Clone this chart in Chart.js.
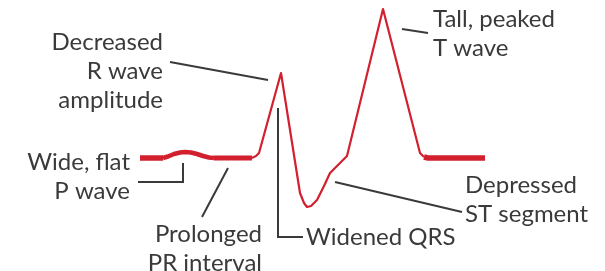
<!DOCTYPE html>
<html>
<head>
<meta charset="utf-8">
<script src="https://cdn.jsdelivr.net/npm/chart.js@4.4.1/dist/chart.umd.min.js"></script>
<style>
html,body{margin:0;padding:0;background:#fff}
#wrap{width:605px;height:271px}
</style>
</head>
<body>
<div id="wrap"><canvas id="ecg" width="605" height="271"></canvas></div>
<script>

// trace: time (px along strip) and amplitude (px above baseline)
const time = [140,163,168,174,180,185,191,197,203,209,214,252,256,259,281,300,304,307,311,317,324,330,337,347,383,420,424,428,485]
const amp  = [0,0,1.5,4,5.5,6,5.5,4,2,0.5,0,0,2,5,85,-35,-45,-49,-48,-42,-28,-15,-8,2,149,5,1,0,0]

const labels = [
  ["Decreased","R wave","amplitude"],
  ["Tall, peaked","T wave"],
  ["Wide, flat","P wave"],
  ["Prolonged","PR interval"],
  ["Widened QRS"],
  ["Depressed","ST segment"]
]

// where each label sits and its leader line (in chart units)
const notes = [
  {x:163, y:108, align:"right", leader:[[170,96],[268,78]]},
  {x:433, y:131, align:"left",  leader:[[402,129],[428,125]]},
  {x:130, y:-12, align:"right", leader:[[138,-24],[183,-24],[183,-5]]},
  {x:262, y:-84, align:"right", leader:[[202,-59],[228,-10]]},
  {x:306, y:-87, align:"left",  leader:[[278,50],[278,-79],[303,-79]]},
  {x:465, y:-35, align:"left",  leader:[[335,-24],[462,-54]]}
]

const red = "#d2202e"
const ink = "#3a3a3a"

const notesPlugin = {
  id:"notes",
  afterDraw(chart){
    const c = chart.ctx
    const sx = chart.scales.x, sy = chart.scales.y
    c.save()
    c.strokeStyle = ink
    c.lineWidth = 2
    notes.forEach((n,i)=>{
      c.beginPath()
      n.leader.forEach((p,k)=>{
        const px = sx.getPixelForValue(p[0]), py = sy.getPixelForValue(p[1])
        if(k===0) c.moveTo(px,py)
        else c.lineTo(px,py)
      })
      c.stroke()
      c.fillStyle = ink
      c.font = "24px Lato"
      c.textBaseline = "alphabetic"
      c.textAlign = n.align
      const px = sx.getPixelForValue(n.x)
      let py = sy.getPixelForValue(n.y)
      labels[i].forEach(line=>{
        c.fillText(line, px, py)
        py += 29
      })
    })
    c.restore()
  }
}

new Chart(document.getElementById("ecg"), {
  type:"line",
  data:{
    datasets:[{
      data: time.map((t,i)=>({x:t, y:amp[i]})),
      borderColor: red,
      borderWidth: 2.2,
      pointRadius: 0,
      tension: 0,
      borderJoinStyle: "round",
      segment:{
        borderWidth: s => {
          const a = s.p0.parsed.x, b = s.p1.parsed.x
          if(b <= 163 || a >= 424) return 5.5
          if(b <= 214) return 4.5
          if(b <= 252) return 5
          return 2.2
        }
      }
    }]
  },
  options:{
    responsive:false,
    animation:false,
    devicePixelRatio:1,
    layout:{padding:0},
    plugins:{legend:{display:false}, tooltip:{enabled:false}},
    scales:{
      x:{type:"linear", min:0, max:605, display:false},
      y:{min:-113, max:158, display:false}
    }
  },
  plugins:[notesPlugin]
})

</script>
</body>
</html>
